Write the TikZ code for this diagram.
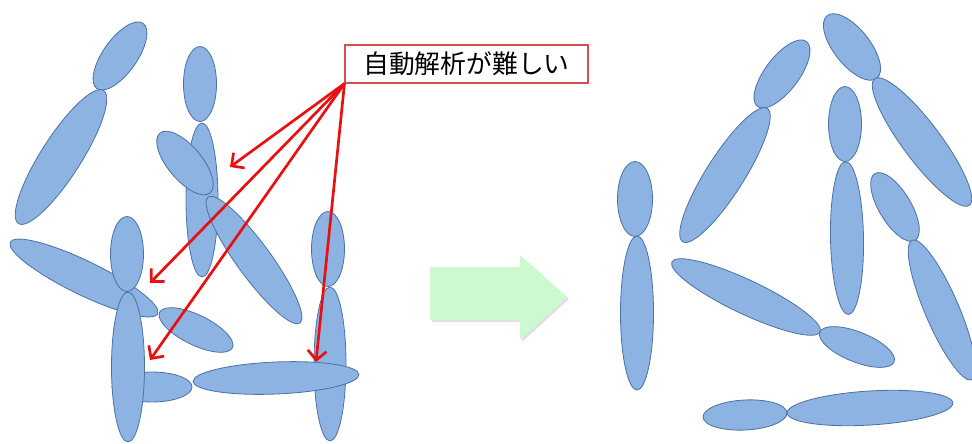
\documentclass[tikz,border=0pt]{standalone}
\usepackage{fontspec}
\newfontfamily\jpfont{Noto Sans CJK JP}
\usetikzlibrary{arrows.meta}
\definecolor{chromfill}{RGB}{141,179,226}
\definecolor{chromline}{RGB}{76,114,166}
\definecolor{callred}{RGB}{232,16,16}
\definecolor{boxred}{RGB}{214,78,78}
\definecolor{arrowgreen}{RGB}{204,250,208}
\tikzset{
  chrom/.style={fill=chromfill, draw=chromline, line width=0.7pt},
  callout/.style={draw=boxred, fill=white, line width=0.9pt, inner sep=0pt,
    minimum width=7.29cm, minimum height=1.14cm, font=\jpfont\fontsize{22}{26}\selectfont},
  pointer/.style={callred, line width=2.3pt, -{Straight Barb[length=8pt,width=16pt,line width=2.3pt]}},
}
% one chromosome arm: centre x, centre y (downwards), semi-major, semi-minor, angle
\newcommand\arm[5]{\draw[chrom, shift={(#1,-#2)}, rotate=#5] (0,0) ellipse [x radius=#3, y radius=#4];}
\begin{document}
\begin{tikzpicture}[x=0.03cm, y=0.03cm]
\useasboundingbox (0,0) rectangle (972,-443);
% ---- tangled set ----
\arm{120}{56}{40}{17}{54.7}
\arm{61}{157}{79}{20}{57.4}
\arm{202}{200}{77}{16}{90}
\arm{200}{84}{37.5}{16.5}{90}
\arm{185}{163}{39}{17}{-50}
\arm{254}{260}{78}{17}{-53.9}
\arm{84}{278}{82}{17}{-25.9}
\arm{127}{254}{37.5}{16.5}{90}
\arm{196}{330}{40.5}{15}{-26}
\arm{152}{387}{40}{15}{0}
\arm{128}{367}{75}{16.5}{90}
\arm{328}{249}{37.5}{16.5}{90}
\arm{330}{364}{77}{16}{90}
\arm{276}{378}{83}{16}{2.4}
% ---- separated set ----
\arm{635}{199}{37.5}{17.5}{90}
\arm{637}{313}{77}{16.5}{90}
\arm{782}{74}{40.7}{17}{53}
\arm{725}{175}{79}{19}{57.6}
\arm{852}{47}{40}{18}{-51.6}
\arm{922}{142}{79}{19}{-53.2}
\arm{845}{124}{37.5}{16.5}{90}
\arm{847}{238}{76.5}{16.5}{91}
\arm{895}{207}{39}{16}{-59}
\arm{942}{310}{76}{17}{-66.8}
\arm{746}{297}{82}{17}{-25.3}
\arm{857}{347}{40}{15}{-21.8}
\arm{745}{415}{42}{15}{3}
\arm{870}{408}{83}{17}{3.5}
% ---- block arrow between the two sets ----
\fill[black, opacity=0.12] (432,-269) -- (522,-269) -- (522,-257) -- (569,-299)
  -- (522,-342) -- (522,-322) -- (432,-322) -- cycle;
\fill[arrowgreen] (430,-267) -- (520,-267) -- (520,-255) -- (567,-297)
  -- (520,-340) -- (520,-320) -- (430,-320) -- cycle;
% ---- callout and pointers ----
\node[callout] (lbl) at (466.5,-64) {自動解析が難しい};
\coordinate (p1) at (230,-167);
\coordinate (p2) at (150,-283);
\coordinate (p3) at (150,-360);
\coordinate (p4) at (316,-362);
\foreach \p in {p1,p2,p3,p4} \draw[pointer] (lbl.south west) -- (\p);
\end{tikzpicture}
\end{document}
